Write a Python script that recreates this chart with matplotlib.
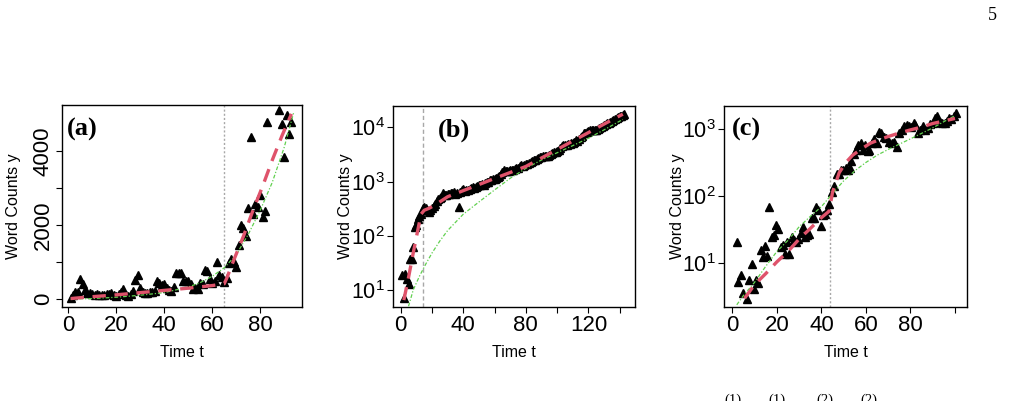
import matplotlib
matplotlib.use("Agg")
import matplotlib.pyplot as plt
from matplotlib.ticker import NullLocator

plt.rcParams['font.family'] = ['Liberation Sans', 'DejaVu Sans']

# ---- panel (a): word counts, linear scale ----
t_a = list(range(1, 84)) + [88, 89, 90, 91, 92, 93]
y_a = [40, 120, 200, 210, 550, 420, 250, 170, 160, 140,
       120, 130, 110, 120, 110, 150, 130, 170, 120, 90,
       140, 200, 270, 110, 100, 150, 220, 520, 650, 300,
       200, 180, 170, 200, 210, 220, 500, 450, 380, 400,
       300, 260, 220, 330, 700, 700, 700, 500, 480, 500,
       420, 280, 300, 280, 450, 400, 800, 760, 550, 430,
       500, 1000, 650, 600, 460, 580, 970, 1100, 1000, 860,
       1460, 2000, 1910, 1707, 2450, 4385, 2300, 2570, 2500, 2810,
       2210, 2380, 4770, 5105, 4727, 3830, 4970, 4450, 4770]
fit_a_t = [1, 10, 20, 30, 40, 50, 60, 65, 66, 69, 73, 77, 81, 85, 89, 93]
fit_a_y = [20, 70, 120, 180, 240, 300, 370, 420, 560, 1060, 1700, 2400, 3050, 3750, 4400, 5000]
alt_a_t = [1, 10, 20, 30, 40, 50, 55, 60, 65, 70, 75, 80, 85, 90, 94]
alt_a_y = [5, 20, 55, 110, 180, 330, 450, 620, 850, 1200, 1750, 2400, 3150, 4100, 5050]
cut_a = 65

# ---- panel (b): log scale ----
t_b = list(range(1, 144))
y_b = [19, 7, 20, 16, 13, 38, 38, 63, 147, 160,
       200, 230, 250, 320, 340, 330, 300, 280, 300, 330,
       360, 390, 430, 470, 500, 520, 610, 570, 560, 580,
       600, 620, 610, 640, 600, 620, 345, 650, 700, 720,
       680, 690, 700, 720, 760, 780, 760, 800, 820, 850,
       870, 900, 880, 930, 980, 1000, 1070, 1050, 1100, 1120,
       1150, 1200, 1250, 1350, 1500, 1620, 1580, 1550, 1560, 1600,
       1620, 1650, 1700, 1750, 1800, 1900, 2000, 1950, 2050, 2100,
       2150, 2200, 2250, 2350, 2450, 2550, 2650, 2750, 2800, 2850,
       2900, 2950, 3000, 2900, 3100, 3250, 3350, 3450, 3550, 3700,
       3900, 4200, 4500, 4700, 4800, 4700, 4850, 5000, 5100, 5200,
       5400, 5800, 5600, 6000, 6500, 7000, 7700, 8000, 8300, 8600,
       8800, 8900, 9000, 8800, 9000, 9400, 9700, 10000, 10500, 11000,
       11500, 11800, 12000, 12500, 13000, 13500, 14500, 15000, 15500, 16000,
       16500, 17000, 17800]
fit_b_t = [2, 5, 8, 11, 13, 15, 18, 22, 30, 40, 50, 60, 70, 80, 90, 100, 110, 120, 130, 142]
fit_b_y = [6.5, 17, 48, 130, 250, 295, 320, 370, 525, 680, 880, 1140, 1470, 1900,
           2720, 3900, 5600, 8000, 11500, 17500]
alt_b_t = [5, 8, 12, 16, 20, 25, 30, 40, 50, 60, 70, 80, 90, 100, 110, 120, 130, 142]
alt_b_y = [5, 10, 18, 30, 48, 80, 125, 250, 420, 700, 1150, 1750, 2500, 3400,
           4600, 6300, 9000, 14000]
cut_b = 14

# ---- panel (c): log scale ----
t_c = [2, 2.7, 3.7, 4.6, 6.4, 7.6, 8.7, 9.7, 10.6, 11.7,
       12.7, 13.6, 14.7, 15.7, 16.6, 17.7, 18.7, 19.6, 20.6, 21.7,
       22.6, 23.6, 24.7, 25.6, 26.6, 27.7, 28.6, 29.6, 30.7, 31.6,
       32.6, 33.7, 34.6, 35.7, 36.7, 37.6, 38.7, 39.7, 40.6, 41.7,
       42.7, 43.6, 44.8, 45.8, 46.8, 47.8, 48.8, 49.7, 50.9, 51.9,
       52.9, 53.3, 54.5, 55.5, 56.5, 57.6, 58.7, 59.7, 60.8, 61.5,
       62.7, 63.7, 64.8, 65.9, 66.8, 68.1, 69.2, 70.4, 71.6, 72.6,
       73.8, 74.8, 76.3, 77.3, 78.4, 79.3, 80.3, 81.4, 82.2, 83.4,
       84.5, 85.5, 86.7, 87.9, 88.9, 90, 91.2, 92.1, 93.3, 94.2,
       95.3, 96.3, 97.2, 98.4, 99.4, 100.5]
y_c = [21, 5.3, 6.7, 3.6, 2.9, 5.6, 9.8, 4.1, 5.6, 5.0,
       16, 12.6, 18, 12.9, 70, 24.5, 26, 37, 32, 17.8,
       18.6, 13.7, 21, 13.7, 25, 22, 21, 23, 28, 35,
       25, 26, 27, 47, 47, 70, 63, 36, 52, 55,
       62, 78, 117, 143, 215, 215, 245, 245, 260, 245,
       260, 340, 430, 490, 585, 620, 490, 585, 480, 490,
       630, 710, 620, 920, 870, 780, 740, 650, 620, 650,
       540, 870, 960, 1120, 1160, 1120, 1100, 1230, 1160, 870,
       960, 1120, 960, 1050, 1200, 1230, 1460, 1570, 1300, 1260,
       1230, 1350, 1460, 1400, 1570, 1740]
fit_c_t = [5.5, 10, 15, 20, 25, 30, 35, 40, 43.5, 45, 48, 51, 54, 58, 62, 66, 70, 75,
           80, 85, 90, 95, 100]
fit_c_y = [3.0, 4.8, 7.0, 10.5, 15, 23, 33, 48, 60, 115, 225, 320, 410, 510, 620, 700,
           780, 880, 980, 1080, 1220, 1330, 1450]
alt_c_t = [2, 5, 10, 15, 20, 25, 30, 35, 40, 45, 50, 55, 60, 65, 70, 75, 80, 85, 90, 95, 100]
alt_c_y = [2.4, 3.3, 5.2, 9, 15, 22, 35, 50, 70, 110, 170, 240, 320, 410, 500, 600,
           720, 870, 1050, 1300, 1600]
cut_c = 44

RED = '#DF536B'
GREEN = '#61D04F'
SERIF = ['Liberation Serif', 'DejaVu Serif']


def draw_panel(ax, t, y, fit_t, fit_y, alt_t, alt_y, cut, cut_style):
    ax.axvline(cut, color='#A8A8A8', lw=1.0, linestyle=cut_style, zorder=1)
    ax.plot(t, y, '^', color='black', ms=5.5, mec='black', zorder=3)
    ax.plot(alt_t, alt_y, color=GREEN, lw=0.9, linestyle=(0, (3, 1.5, 1, 1.5)), zorder=4)
    ax.plot(fit_t, fit_y, color=RED, lw=2.4, linestyle=(0, (4, 2.6)), zorder=5)
    for s in ax.spines.values():
        s.set_linewidth(1.0)
    ax.tick_params(direction='out', length=4, width=0.8, labelsize=16, pad=2)
    ax.text(0.5, -0.19, 'Time t', transform=ax.transAxes, ha='center', va='top', fontsize=11.5)


def main():
    fig = plt.figure(figsize=(10.13, 4.01), dpi=100)

    ax_a = fig.add_axes([0.0612, 0.2344, 0.2369, 0.5037])
    ax_b = fig.add_axes([0.3883, 0.2352, 0.2386, 0.5012])
    ax_c = fig.add_axes([0.7150, 0.2352, 0.2393, 0.5012])

    # (a)
    draw_panel(ax_a, t_a, y_a, fit_a_t, fit_a_y, alt_a_t, alt_a_y, cut_a, (0, (1.5, 1.5)))
    ax_a.set_xlim(-2.6, 97.4)
    ax_a.set_ylim(-208, 5240)
    ax_a.set_xticks([0, 20, 40, 60, 80])
    ax_a.set_yticks([0, 1000, 2000, 3000, 4000])
    ax_a.set_yticklabels(['0', '', '2000', '', '4000'], rotation=90, va='center')
    ax_a.text(-0.2, 0.5, 'Word Counts y', transform=ax_a.transAxes, rotation=90,
              ha='center', va='center', fontsize=11.5)

    # (b)
    draw_panel(ax_b, t_b, y_b, fit_b_t, fit_b_y, alt_b_t, alt_b_y, cut_b, (0, (3, 2)))
    ax_b.set_yscale('log')
    ax_b.set_xlim(-4.7, 149.8)
    ax_b.set_ylim(4.92, 25060)
    ax_b.set_xticks([0, 20, 40, 60, 80, 100, 120, 140])
    ax_b.set_xticklabels(['0', '', '40', '', '80', '', '120', ''])
    ax_b.set_yticks([10, 100, 1000, 10000])
    ax_b.set_yticklabels([r'$\mathregular{10^{%d}}$' % k for k in range(1, 5)])
    ax_b.yaxis.set_minor_locator(NullLocator())
    ax_b.tick_params(axis='y', labelsize=15.5)
    ax_b.text(-0.2, 0.5, 'Word Counts y', transform=ax_b.transAxes, rotation=90,
              ha='center', va='center', fontsize=11.5)

    # (c)
    draw_panel(ax_c, t_c, y_c, fit_c_t, fit_c_y, alt_c_t, alt_c_y, cut_c, (0, (1.5, 1.5)))
    ax_c.set_yscale('log')
    ax_c.set_xlim(-3.6, 105.25)
    ax_c.set_ylim(2.25, 2249)
    ax_c.set_xticks([0, 20, 40, 60, 80, 100])
    ax_c.set_xticklabels(['0', '20', '40', '60', '80', ''])
    ax_c.set_yticks([10, 100, 1000])
    ax_c.set_yticklabels([r'$\mathregular{10^{%d}}$' % k for k in range(1, 4)])
    ax_c.yaxis.set_minor_locator(NullLocator())
    ax_c.tick_params(axis='y', labelsize=15.5)
    ax_c.text(-0.195, 0.5, 'Word Counts y', transform=ax_c.transAxes, rotation=90,
              ha='center', va='center', fontsize=11.5)

    # panel tags
    for ax, tag, xpos in [(ax_a, '(a)', 0.02), (ax_b, '(b)', 0.185), (ax_c, '(c)', 0.032)]:
        ax.text(xpos, 0.88, tag, transform=ax.transAxes, ha='left', va='center',
                fontsize=19, fontweight='bold', family=SERIF)

    # page number and the cut-off caption line below
    fig.text(0.980, 0.962, '5', ha='center', va='center', fontsize=13, family=SERIF)
    for xp, s in [(733, '(1)'), (777, '(1)'), (825, '(2)'), (869, '(2)')]:
        fig.text(xp / 1013, 1 - 394 / 401, s, ha='center', va='top', fontsize=10.5,
                 family=SERIF)

    fig.savefig('out.png', dpi=100)


if __name__ == "__main__":
    main()
